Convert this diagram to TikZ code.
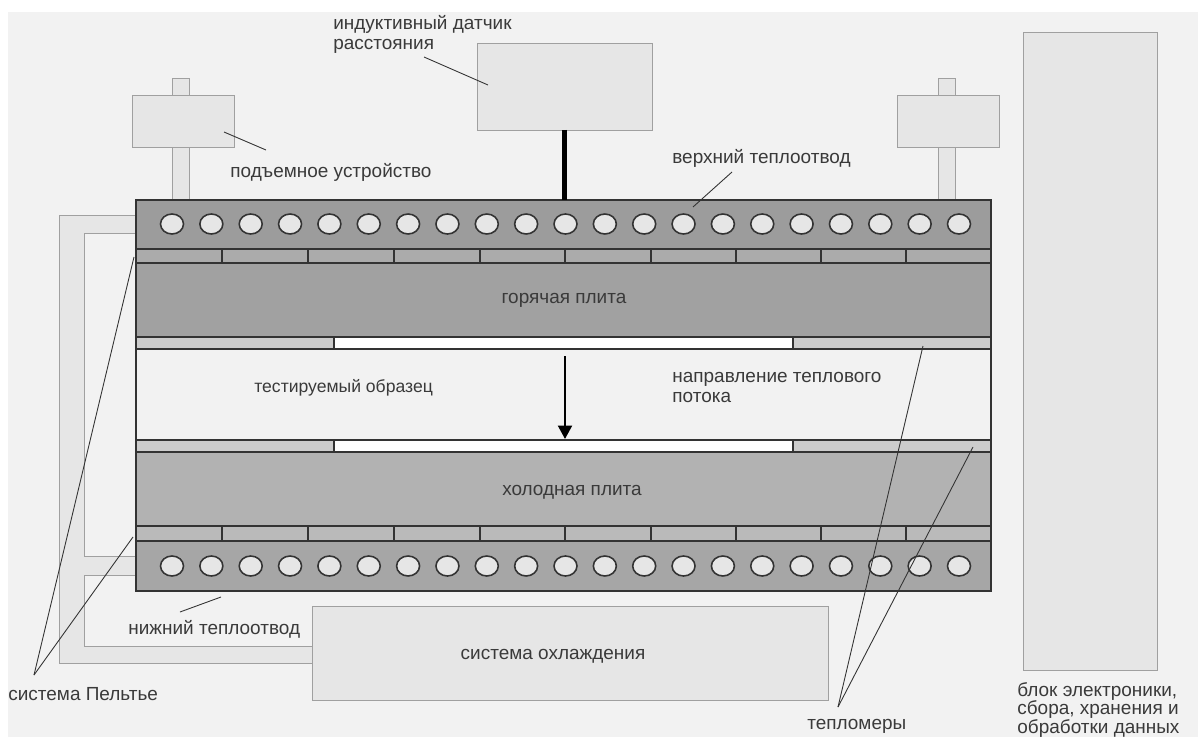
\documentclass[tikz,border=0pt]{standalone}
\usepackage{fontspec}
\setmainfont{Liberation Sans}
\usetikzlibrary{arrows.meta, positioning, shapes.geometric}
\definecolor{cback}{HTML}{F2F2F2}
\definecolor{cpale}{HTML}{E6E6E6}
\definecolor{cedge}{HTML}{A0A0A0}
\definecolor{cdark}{HTML}{333333}
\definecolor{csink}{HTML}{9C9C9C}
\definecolor{ctext}{HTML}{3A3A3A}
\tikzset{
  every picture/.style={font=\fontsize{10.8}{11.4}\selectfont, text=ctext},
  box/.style={draw=cedge, fill=cpale, line width=0.5pt, anchor=north west, inner sep=0pt, outer sep=0pt},
  slab/.style={draw=cdark, fill=#1, line width=1.1pt, anchor=north west, inner sep=0pt, outer sep=0pt},
  slab/.default=csink,
  hole/.style={draw=cdark, fill=cpale, ellipse, line width=0.9pt, minimum width=0.46cm, minimum height=0.4cm, inner sep=0pt},
  leader/.style={draw=black!80, line width=0.5pt},
  label/.style={align=left, anchor=west, inner sep=0pt},
}
\begin{document}
\begin{tikzpicture}[x=0.02cm, y=-0.02cm]
  \useasboundingbox (0,0) rectangle (1198,737);
  \fill[white] (0,0) rectangle (1198,737);
  \fill[cback] (8,12) rectangle (1198,737);
  % pipes
  \draw[draw=cedge, fill=cpale, line width=0.5pt] (136,215) -- (59,215) -- (59,663) -- (312,663) -- (312,646) -- (84,646)
    -- (84,575) -- (136,575) -- (136,556) -- (84,556) -- (84,233) -- (136,233) -- cycle;
  % lifts and sensor
  \draw[box] (172,78) rectangle (189,200);
  \draw[box] (938,78) rectangle (955,200);
  \node[box, minimum width=2.04cm, minimum height=1.04cm] (liftl) at (132,95) {};
  \node[box, minimum width=2.04cm, minimum height=1.04cm] (liftr) at (897,95) {};
  \node[box, minimum width=3.5cm, minimum height=1.74cm] (sensor) at (477,43) {};
  \node[box, minimum width=2.68cm, minimum height=12.78cm] (electronics) at (1023,32) {};
  \node[box, minimum width=10.34cm, minimum height=1.88cm] (cooling) at (312,606) {};
  % stack of plates
  \node[slab, minimum width=17.1cm, minimum height=0.98cm] (topsink) at (136,200) {};
  \node[slab=black!33, minimum width=17.1cm, minimum height=0.28cm] (topstrip) at (136,249) {};
  \node[slab=black!37, minimum width=17.1cm, minimum height=1.48cm] (hot) at (136,263) {};
  \node[slab=cback, minimum width=17.1cm, minimum height=1.82cm] (sample) at (136,349) {};
  \node[slab=white, minimum width=17.1cm, minimum height=0.24cm] (gaugetop) at (136,337) {};
  \node[slab=white, minimum width=17.1cm, minimum height=0.24cm] (gaugebot) at (136,440) {};
  \node[slab=black!30, minimum width=17.1cm, minimum height=1.48cm] (cold) at (136,452) {};
  \node[slab=black!27, minimum width=17.1cm, minimum height=0.3cm] (botstrip) at (136,526) {};
  \node[slab=black!35, minimum width=17.1cm, minimum height=1cm] (botsink) at (136,541) {};
  \foreach \g in {gaugetop, gaugebot} {
    \draw[slab=black!20] (\g.north west) rectangle ([xshift=3.96cm]\g.south west);
    \draw[slab=black!20] (\g.north east) rectangle ([xshift=-3.96cm]\g.south east);
  }
  \foreach \x in {222,308,394,480,565,651,736,821,906} {
    \draw[draw=cdark, line width=0.8pt] (topstrip.north -| \x,0) -- (topstrip.south -| \x,0);
    \draw[draw=cdark, line width=0.8pt] (botstrip.north -| \x,0) -- (botstrip.south -| \x,0);
  }
  \foreach \j in {0,...,20} {
    \node[hole] (ht\j) at (172+39.35*\j, 224) {};
    \node[hole] (hb\j) at (172+39.35*\j, 566) {};
  }
  % sensor rod and heat flow
  \draw[draw=black, line width=3.2pt] (sensor.south) -- (sensor.south |- topsink.north);
  \coordinate (flowa) at (565,356);
  \coordinate (flowb) at (565,439);
  \draw[-{Triangle[length=2.7mm, width=2.8mm]}, draw=black, line width=1.3pt] (flowa) -- (flowb);
  % texts
  \node[label] (tsensor) at (333,34) {индуктивный датчик\\расстояния};
  \node[label] (tlift) at (230,172) {подъемное устройство};
  \node[label] (ttop) at (672,158) {верхний теплоотвод};
  \node[anchor=center, inner sep=0pt] (thot) at (564,300) {горячая плита};
  \node[label, font=\fontsize{10}{11.4}\selectfont] (tsample) at (254,388) {тестируемый образец};
  \node[label] (tflow) at (672,387) {направление теплового\\потока};
  \node[anchor=center, inner sep=0pt] (tcold) at (572,492) {холодная плита};
  \node[label] (tbot) at (128,629) {нижний теплоотвод};
  \node[anchor=center, inner sep=0pt] (tcool) at (553,656) {система охлаждения};
  \node[label] (tpelt) at (8,694) {система Пельтье};
  \node[label] (tmeter) at (807,726) {тепломеры};
  \node[label, font=\fontsize{10.8}{10.4}\selectfont] (telec) at (1017,710) {блок электроники,\\сбора, хранения и\\обработки данных};
  % leaders
  \coordinate (apexp) at (34,675);
  \coordinate (apexm) at (838,707);
  \coordinate (ps1) at (134,257);
  \coordinate (ps2) at (133,537);
  \coordinate (mt1) at (923,346);
  \coordinate (mt2) at (973,447);
  \draw[leader] (apexp) -- (ps1);
  \draw[leader] (apexp) -- (ps2);
  \draw[leader] (apexm) -- (mt1);
  \draw[leader] (apexm) -- (mt2);
  \coordinate (ls1) at (424,57);
  \coordinate (ls2) at (488,85);
  \draw[leader] (ls1) -- (ls2);
  \coordinate (ll1) at (224,132);
  \coordinate (ll2) at (266,150);
  \draw[leader] (ll1) -- (ll2);
  \coordinate (lt1) at (693,207);
  \coordinate (lt2) at (732,172);
  \draw[leader] (lt1) -- (lt2);
  \coordinate (lb1) at (180,612);
  \coordinate (lb2) at (221,597);
  \draw[leader] (lb1) -- (lb2);
\end{tikzpicture}
\end{document}
